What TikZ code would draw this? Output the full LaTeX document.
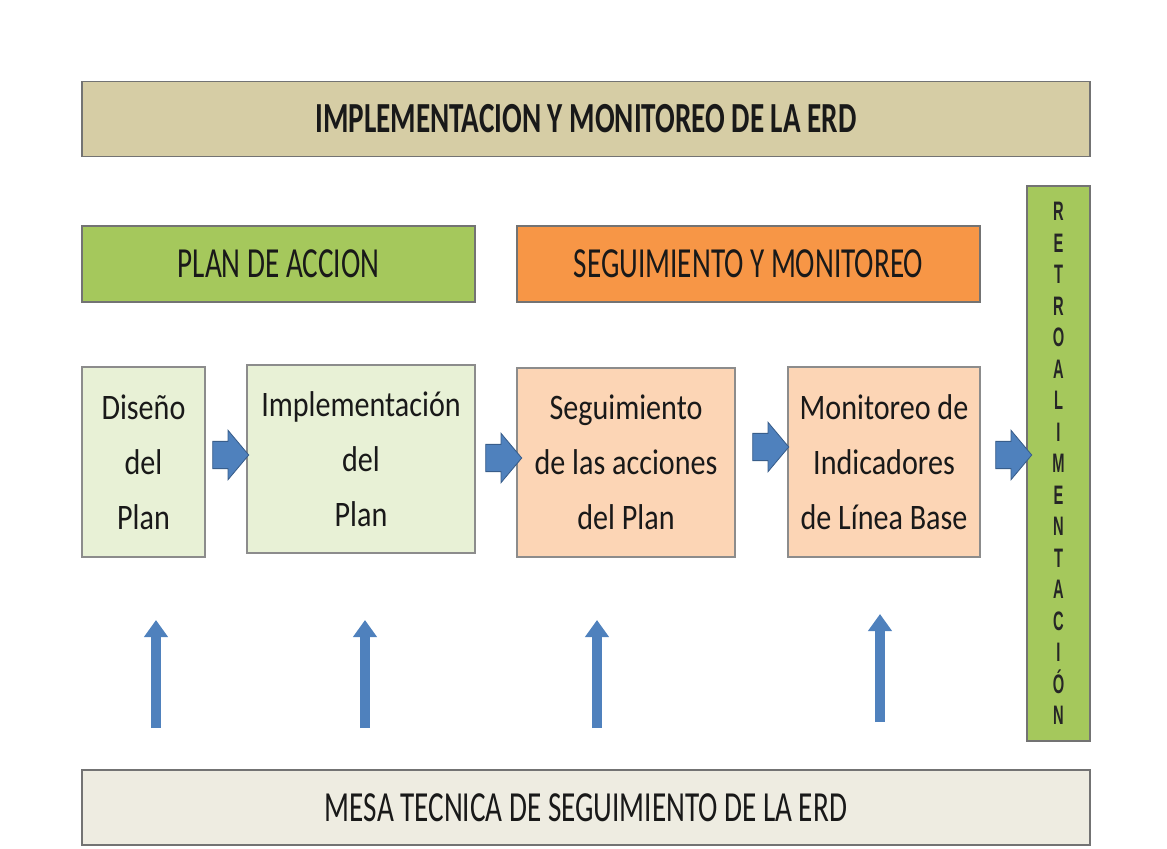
\documentclass[tikz,border=0pt]{standalone}
\usepackage{fontspec}
\setmainfont{Carlito}
\newfontfamily\hdrfont{Carlito}[FakeStretch=0.68]
\newfontfamily\boxfont{Carlito}[FakeStretch=0.84]
\newfontfamily\retrofont{Liberation Sans}[FakeStretch=0.55]
\usetikzlibrary{shapes.arrows,arrows.meta}

\definecolor{tanband}{RGB}{214,205,165}
\definecolor{creamband}{RGB}{238,236,225}
\definecolor{planhead}{RGB}{165,200,92}
\definecolor{seguhead}{RGB}{247,150,70}
\definecolor{planbox}{RGB}{232,241,214}
\definecolor{segubox}{RGB}{252,213,181}
\definecolor{arrowblue}{RGB}{79,129,189}
\definecolor{arrowedge}{RGB}{56,93,138}

\begin{document}
\begin{tikzpicture}[x=0.025cm,y=-0.025cm]
	\tikzstyle{band}=[draw=black!55,line width=1pt,minimum width=25.2cm,minimum height=1.86cm,inner sep=0pt,text=black!90]
	\tikzstyle{head}=[draw=black!55,line width=1pt,minimum height=1.9cm,inner sep=0pt,text=black!90,font=\hdrfont\fontsize{30.5}{36}\selectfont]
	\tikzstyle{p-box}=[draw=black!45,line width=1pt,inner sep=0pt,align=center,text=black!90,font=\boxfont\fontsize{25.5}{39}\selectfont]
	\tikzstyle{blk-arrow}=[single arrow,fill=arrowblue,draw=arrowedge,line width=0.6pt,inner xsep=0pt,inner ysep=0.33cm,single arrow head extend=0.275cm,single arrow tip angle=100,minimum height=0.9cm]
	\tikzstyle{up-arrow}=[draw=arrowblue,line width=0.25cm,-{Triangle[width=0.575cm,length=0.425cm]}]

	\def \headrow{264}
	\def \boxrow{462}
	\def \arrtop{620}
	\def \arrbot{728}

	\useasboundingbox (0,0) rectangle (1167,849);

	% bands
	\node[band,fill=tanband,font=\hdrfont\bfseries\fontsize{30.5}{36}\selectfont] (impl) at (586,119) {IMPLEMENTACION Y MONITOREO DE LA ERD};
	\node[band,fill=creamband,minimum height=1.875cm,font=\hdrfont\fontsize{30.5}{36}\selectfont] (mesa) at (586,807.5) {MESA TECNICA DE SEGUIMIENTO DE LA ERD};

	% headers
	\node[head,fill=planhead,minimum width=9.825cm] (plan) at (278.5,\headrow) {PLAN DE ACCION};
	\node[head,fill=seguhead,minimum width=11.575cm] (segu) at (748.5,\headrow) {SEGUIMIENTO Y MONITOREO};

	\node[draw=black!55,line width=1pt,fill=planhead,minimum width=1.575cm,minimum height=13.875cm,inner sep=0pt,align=center,text=black!85,
		font=\retrofont\bfseries\fontsize{19}{22.4}\selectfont] (retro) at (1058.5,463.5)
		{R\\E\\T\\R\\O\\A\\L\\I\\M\\E\\N\\T\\A\\C\\I\\Ó\\N};

	% steps
	\node[p-box,fill=planbox,minimum width=3.075cm,minimum height=4.75cm] 	(disen)	at (143.5,\boxrow)	{Diseño\\del\\Plan};
	\node[p-box,fill=planbox,minimum width=5.7cm,minimum height=4.7cm] 	(implp)	at (361,459)		{Implementación\\del\\Plan};
	\node[p-box,fill=segubox,minimum width=5.45cm,minimum height=4.725cm] 	(segac)	at (626,462.5)		{Seguimiento\\de las acciones\\del Plan};
	\node[p-box,fill=segubox,minimum width=4.8cm,minimum height=4.75cm] 	(monit)	at (884,\boxrow)	{Monitoreo de\\Indicadores\\de Línea Base};

	\node[blk-arrow] (a1) at (225,455) {};
	\node[blk-arrow] (a2) at (498,458) {};
	\node[blk-arrow] (a3) at (765,447) {};
	\node[blk-arrow] (a4) at (1008,455) {};

	% mesa -> steps
	\coordinate (m1) at (156,\arrbot);	\coordinate (t1) at (156,\arrtop);
	\coordinate (m2) at (365,\arrbot);	\coordinate (t2) at (365,\arrtop);
	\coordinate (m3) at (597,\arrbot);	\coordinate (t3) at (597,\arrtop);
	\coordinate (m4) at (880,722);		\coordinate (t4) at (880,614);
	\draw[up-arrow] (m1) -- (t1);
	\draw[up-arrow] (m2) -- (t2);
	\draw[up-arrow] (m3) -- (t3);
	\draw[up-arrow] (m4) -- (t4);
\end{tikzpicture}
\end{document}
